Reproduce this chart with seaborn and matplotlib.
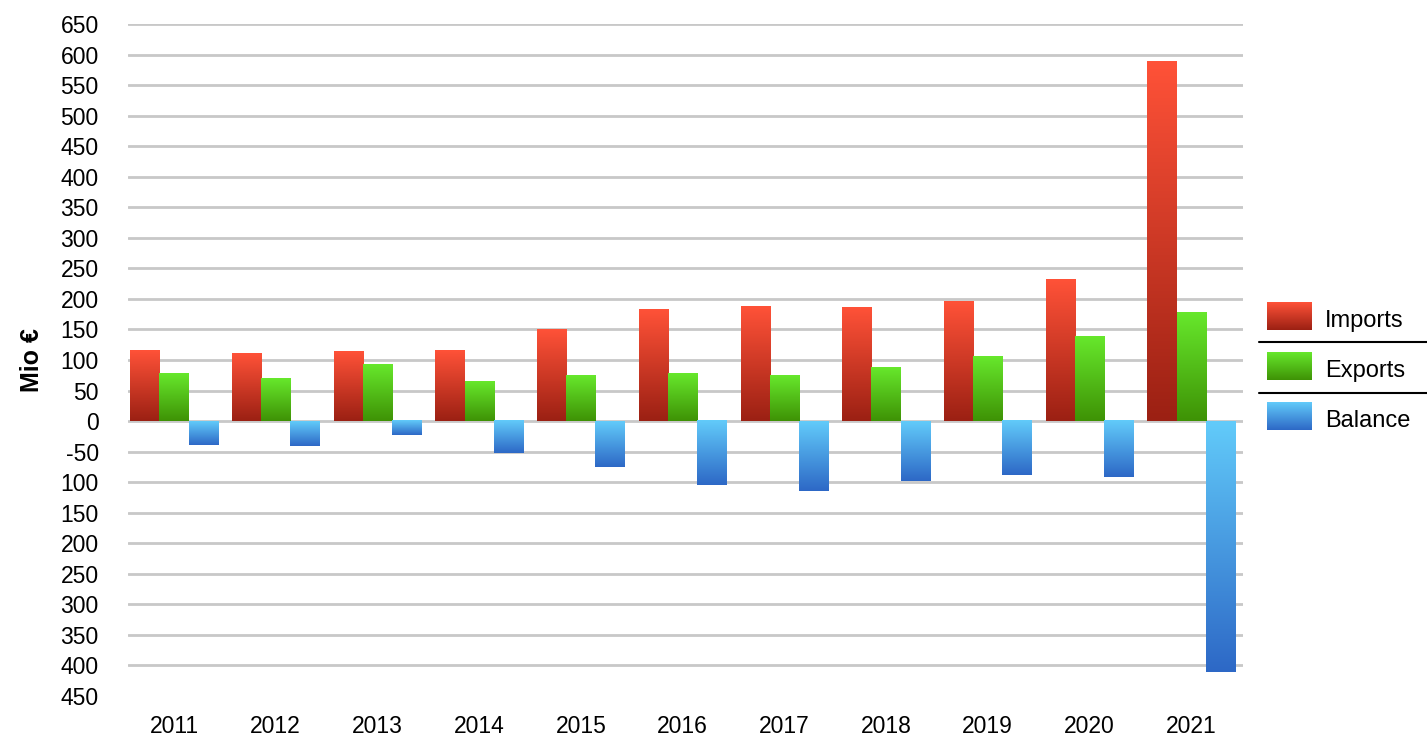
import numpy as np
import pandas as pd
import seaborn as sns
import matplotlib.pyplot as plt
from matplotlib.colors import LinearSegmentedColormap

years = ['2011', '2012', '2013', '2014', '2015', '2016', '2017', '2018', '2019', '2020', '2021']
imports = [116, 110, 113, 116, 149, 182, 188, 185, 195, 231, 588]
exports = [77, 70, 93, 64, 74, 77, 74, 87, 106, 139, 178]
balance = [-39, -40, -23, -53, -75, -105, -114, -98, -89, -92, -410]
series = ['Imports', 'Exports', 'Balance']

y_ticks = list(range(-450, 651, 50))
y_labels = ['450', '400', '350', '300', '250', '200', '150', '100', '-50',
            '0', '50', '100', '150', '200', '250', '300', '350', '400', '450',
            '500', '550', '600', '650']

# gradient colours: (bottom, top)
grads = {
    'Imports': ('#9b2013', '#ff5238'),
    'Exports': ('#3e9205', '#67e82c'),
    'Balance': ('#2d68c6', '#62cbfa'),
}

df = pd.DataFrame({
    'year': years * 3,
    'value': imports + exports + balance,
    'series': ['Imports'] * 11 + ['Exports'] * 11 + ['Balance'] * 11,
})

sns.set_style('white')
plt.rcParams['font.family'] = ['Liberation Sans', 'DejaVu Sans']
for k in ['text.color', 'axes.labelcolor', 'xtick.color', 'ytick.color']:
    plt.rcParams[k] = 'black'

fig = plt.figure(figsize=(14.27, 7.40), dpi=100)
ax = fig.add_axes([128 / 1427, 1 - 696 / 740, (1243 - 128) / 1427, (696 - 24) / 740])

palette = {k: v[1] for k, v in grads.items()}
sns.barplot(data=df, x='year', y='value', hue='series', hue_order=series,
            palette=palette, width=0.86, ax=ax, legend=False, zorder=3)

grad = np.linspace(0, 1, 256).reshape(-1, 1)
for name, cont in zip(series, ax.containers):
    cmap = LinearSegmentedColormap.from_list(name, grads[name])
    for bar in cont:
        x0, w = bar.get_x(), bar.get_width()
        y0, h = bar.get_y(), bar.get_height()
        lo, hi = min(y0, y0 + h), max(y0, y0 + h)
        ax.imshow(grad, extent=[x0, x0 + w, lo, hi], origin='lower',
                  aspect='auto', cmap=cmap, zorder=3)
        bar.set_visible(False)

ax.set_xlim(-0.452, 10.51)
ax.set_ylim(-450, 650)
ax.set_yticks(y_ticks)
ax.set_yticklabels(y_labels)
ax.yaxis.grid(True, color='#c8c8c8', linewidth=2, zorder=0)
ax.get_ygridlines()[0].set_visible(False)
ax.set_axisbelow(True)
for s in ax.spines.values():
    s.set_visible(False)
ax.tick_params(axis='y', length=0, pad=21, labelsize=16.5)
ax.tick_params(axis='x', length=0, pad=14, labelsize=16.5)
ax.set_xlabel('')
ax.set_ylabel('Mio €', fontsize=18, fontweight='bold', labelpad=12)

# legend drawn in pixel coordinates
lax = fig.add_axes([0, 0, 1, 1], facecolor='none')
lax.set_xlim(0, 1427)
lax.set_ylim(740, 0)
lax.axis('off')
rows = [320, 370, 420]
for name, yc in zip(series, rows):
    cmap = LinearSegmentedColormap.from_list(name + 'l', grads[name])
    lax.imshow(grad, extent=[1267, 1312, yc + 10, yc - 18], origin='lower',
               aspect='auto', cmap=cmap)
    lax.text(1325, yc + 1, name, fontsize=17, va='center', ha='left')
for yl in [342, 393]:
    lax.plot([1259, 1427], [yl, yl], color='black', linewidth=1.5)
lax.set_xlim(0, 1427)
lax.set_ylim(740, 0)

fig.savefig('out.png', dpi=100)
